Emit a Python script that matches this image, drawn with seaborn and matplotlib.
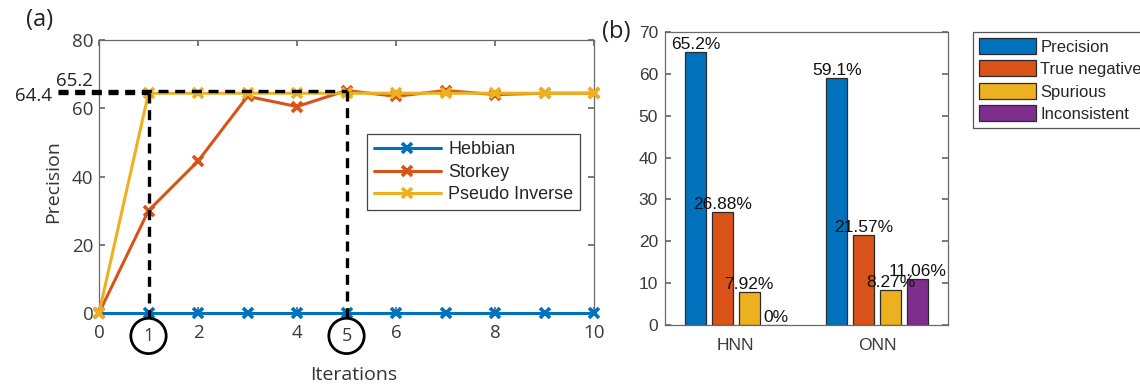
import numpy as np
import pandas as pd
import matplotlib
matplotlib.use("Agg")
import matplotlib.pyplot as plt
import seaborn as sns

# ---- data ----------------------------------------------------------------
iterations = list(range(11))
hebbian = [0, 0, 0, 0, 0, 0, 0, 0, 0, 0, 0]
storkey = [0, 30, 44.5, 63.5, 60.5, 65.2, 63.5, 65.2, 64, 64.4, 64.4]
pseudo_inverse = [0, 64.4, 64.4, 64.4, 64.4, 64.4, 64.4, 64.4, 64.4, 64.4, 64.4]
series_names = ["Hebbian", "Storkey", "Pseudo Inverse"]

networks = ["HNN", "ONN"]
metrics = ["Precision", "True negative", "Spurious", "Inconsistent"]
hnn_values = [65.2, 26.88, 7.92, 0]
onn_values = [59.1, 21.57, 8.27, 11.06]

# MATLAB-like default colour order
colors = ["#0072BD", "#D95319", "#EDB120", "#7E2F8E"]

sns.set_theme(style="ticks")
plt.rcParams["font.family"] = ["Liberation Sans", "DejaVu Sans"]
plt.rcParams["xtick.direction"] = "in"
plt.rcParams["ytick.direction"] = "in"
axis_grey = "#6a6a6a"
text_grey = "#3a3a3a"
soft_font = ["Open Sans", "DejaVu Sans"]

fig = plt.figure(figsize=(11.4, 3.85), dpi=100)

# ---- (a) precision vs iterations -----------------------------------------
ax1 = fig.add_axes([99 / 1140, 72 / 385, 495 / 1140, 273 / 385])
line_df = pd.DataFrame({"Iterations": iterations * 3,
                        "Precision": hebbian + storkey + pseudo_inverse,
                        "Method": [n for n in series_names for _ in iterations]})
for name, col in zip(series_names, colors):
    sns.lineplot(data=line_df[line_df["Method"] == name], x="Iterations", y="Precision",
                 color=col, lw=2.2, marker="x", markersize=7, markeredgewidth=2.6,
                 markeredgecolor=col, label=name, ax=ax1, clip_on=False, zorder=3)

ax1.set_xlim(0, 10)
ax1.set_ylim(0, 80)
ax1.set_xticks([0, 2, 4, 6, 8, 10])
ax1.set_yticks([0, 20, 40, 60, 80])
ax1.tick_params(labelsize=13.5, colors=axis_grey, labelcolor=text_grey, length=4,
                top=True, right=True)
ax1.tick_params(axis="x", pad=8)
ax1.tick_params(axis="y", pad=4)
for lab in ax1.get_xticklabels() + ax1.get_yticklabels():
    lab.set_family(soft_font)
for s in ax1.spines.values():
    s.set_color(axis_grey)
    s.set_linewidth(0.9)
ax1.set_xlabel("")
ax1.set_ylabel("")

# dashed guides for the two marked values
p_first = pseudo_inverse[1]
s_peak = storkey[5]
dash = (0, (3, 2))
ax1.plot([-0.83, 1], [p_first, p_first], color="black", lw=2.4, ls=dash, clip_on=False, zorder=4)
ax1.plot([-0.83, 5], [s_peak, s_peak], color="black", lw=2.4, ls=dash, clip_on=False, zorder=4)
ax1.plot([1, 1], [p_first, -1.8], color="black", lw=2.4, ls=dash, clip_on=False, zorder=4)
ax1.plot([5, 5], [s_peak, -1.8], color="black", lw=2.4, ls=dash, clip_on=False, zorder=4)
ax1.text(-0.95, p_first - 0.8, f"{p_first:g}", ha="right", va="center", fontsize=13.5,
         color="#222222", family=soft_font)
ax1.text(-0.86, s_peak + 0.2, f"{s_peak:g}", ha="left", va="bottom", fontsize=13.5,
         color="#222222", family=soft_font)

# circled tick values
for xv in (1, 5):
    ax1.annotate(str(xv), xy=(xv, 0), xycoords="data", xytext=(0, -16.5),
                 textcoords="offset points", ha="center", va="center", fontsize=13,
                 color=text_grey, family=soft_font,
                 bbox=dict(boxstyle="circle,pad=0.48", fc="white", ec="black", lw=2.0),
                 annotation_clip=False, zorder=5)

ax1.legend(loc="upper left", bbox_to_anchor=(0.541, 0.655), fontsize=13,
           frameon=True, fancybox=False, edgecolor="#444444", framealpha=1,
           handlelength=3.7, borderpad=0.4, labelspacing=0.3, handletextpad=0.4,
           borderaxespad=0)
ax1.get_legend().get_frame().set_linewidth(0.9)

fig.text(53 / 1140, (385 - 182) / 385, "Precision", rotation=90, ha="center", va="center",
         fontsize=14, color="#333333", family=soft_font)
fig.text(354 / 1140, 5 / 385, "Iterations", ha="center", va="baseline",
         fontsize=14, color="#333333", family=soft_font)
fig.text(40 / 1140, (385 - 20) / 385, "(a)", ha="center", va="center",
         fontsize=17, color="#222222", family=soft_font)

# ---- (b) grouped bars ------------------------------------------------------
ax2 = fig.add_axes([665 / 1140, 60 / 385, 283 / 1140, 293 / 385])
bar_df = pd.DataFrame({"Network": [n for n in networks for _ in metrics],
                       "Metric": metrics * 2,
                       "Value": hnn_values + onn_values})
sns.barplot(data=bar_df, x="Network", y="Value", hue="Metric", hue_order=metrics,
            palette=colors, width=0.76, gap=0.22, edgecolor="#2a2a2a", linewidth=0.9,
            saturation=1, ax=ax2, zorder=2)

for container in ax2.containers:
    vals = container.datavalues
    ax2.bar_label(container, labels=[f"{v:g}%" for v in vals], padding=0,
                  fontsize=12.5, color="#111111")

ax2.set_xlim(-0.5, 1.5)
ax2.set_ylim(0, 70)
ax2.set_yticks(range(0, 71, 10))
ax2.tick_params(labelsize=12.5, colors=axis_grey, labelcolor=text_grey, length=4,
                top=False, right=True, bottom=False, pad=5)
ax2.tick_params(axis="x", pad=9)
for s in ax2.spines.values():
    s.set_color(axis_grey)
    s.set_linewidth(0.9)
ax2.set_xlabel("")
ax2.set_ylabel("")

handles, labels = ax2.get_legend_handles_labels()
ax2.legend(handles, labels, loc="upper left", bbox_to_anchor=(973 / 1140, (385 - 32) / 385),
           bbox_transform=fig.transFigure, fontsize=12, frameon=True, fancybox=False,
           edgecolor="#555555", framealpha=1, handlelength=3.4, handleheight=1.1,
           borderpad=0.35, labelspacing=0.35, handletextpad=0.3, borderaxespad=0)
ax2.get_legend().get_frame().set_linewidth(0.9)

fig.text(616 / 1140, (385 - 32) / 385, "(b)", ha="center", va="center",
         fontsize=17, color="#222222", family=soft_font)

fig.savefig("out.png", dpi=100, facecolor="white")
